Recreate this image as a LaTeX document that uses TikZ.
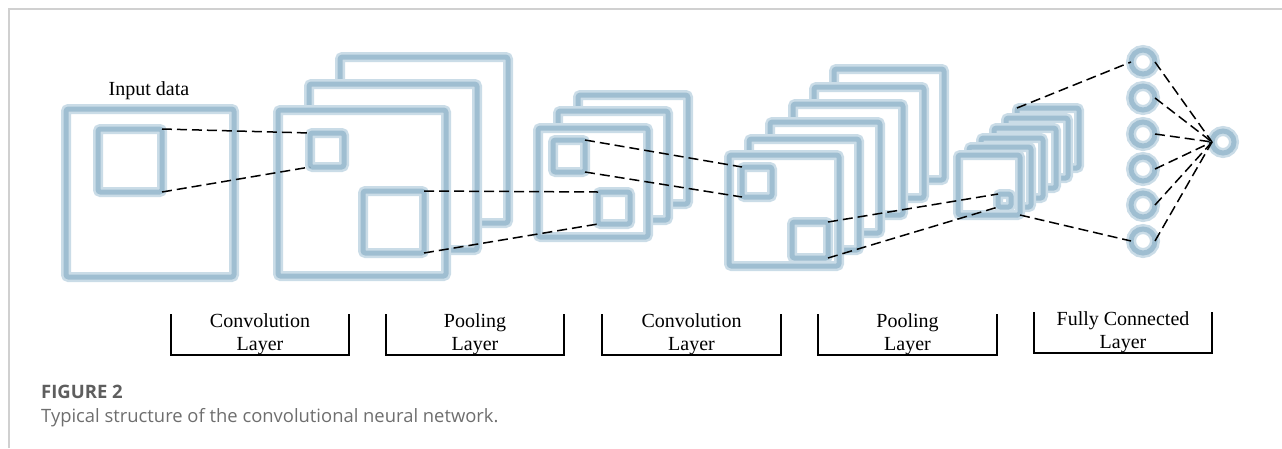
\documentclass[tikz,border=0pt]{standalone}
\usepackage{fontspec}
\setmainfont{Liberation Serif}
\newfontfamily\capfont{Open Sans}
\definecolor{glowcore}{HTML}{9FBED1}
\definecolor{glowouter}{HTML}{CADCE7}
\definecolor{framegray}{HTML}{D0D0D0}
\definecolor{capgray}{HTML}{6E6E6E}
\definecolor{figgray}{HTML}{5E5E5E}
\tikzset{
  fm/.style={preaction={fill=white},preaction={draw=glowouter,line width=10pt},
    draw=glowcore,line width=5pt,rounded corners=2.5pt,inner sep=0pt,outer sep=0pt},
  sqbox/.style={fm,rectangle,anchor=north west},
  neuron/.style={preaction={fill=white},preaction={draw=glowouter,line width=10pt},
    draw=glowcore,line width=5pt,circle,inner sep=0pt,outer sep=0pt,minimum size=24pt},
  link/.style={draw=black,line width=1.5pt,dash pattern=on 10pt off 5pt},
  br/.style={draw=black,line width=2pt},
  lab/.style={anchor=base,inner sep=0pt,font=\fontsize{20}{24}\selectfont},
}
\newcommand\sqr[5]{\node[sqbox,minimum width=#4pt,minimum height=#5pt] (#1) at (#2,#3) {};}
\begin{document}
\begin{tikzpicture}[x=1pt,y=-1pt]
\useasboundingbox (0,0) rectangle (1282,448);
% frame
\draw[framegray,line width=1.5pt] (9,448) -- (9,9) -- (1282,9);
% input
\node[lab] (lin) at (149,95) {Input data};
\sqr{in0}{66}{109}{168}{168}
\sqr{ins}{98}{129}{64}{63}
% conv 1
\sqr{c1c}{340}{57}{168}{166}
\sqr{c1b}{309}{84}{168}{166}
\sqr{c1a}{278}{110}{168}{166}
\sqr{c1s}{310}{133}{34}{34}
\sqr{c1t}{363}{191}{61}{62}
% pool 1
\sqr{p1c}{578}{95}{110}{109}
\sqr{p1b}{558}{111}{110}{109}
\sqr{p1a}{538}{128}{110}{109}
\sqr{p1s}{553}{140}{32}{32}
\sqr{p1t}{598}{192}{32}{32}
% conv 2
\sqr{c2f}{834}{69}{110}{111}
\sqr{c2e}{814}{87}{110}{111}
\sqr{c2d}{793}{104}{110}{111}
\sqr{c2c}{770}{122}{110}{111}
\sqr{c2b}{749}{139}{110}{111}
\sqr{c2a}{729}{155}{110}{111}
\sqr{c2s}{742}{167}{30}{30}
\sqr{c2t}{792}{222}{36}{36}
% pool 2
\sqr{p2f}{1017}{108}{62}{60}
\sqr{p2e}{1006}{118}{62}{60}
\sqr{p2d}{994}{128}{62}{60}
\sqr{p2c}{981}{138}{62}{60}
\sqr{p2b}{969}{147}{62}{60}
\sqr{p2a}{958}{155}{62}{60}
\sqr{p2s}{998}{194}{13}{13}
% fully connected
\node[neuron] (n1) at (1143,62) {};
\node[neuron] (n2) at (1143,98) {};
\node[neuron] (n3) at (1143,134) {};
\node[neuron] (n4) at (1143,169) {};
\node[neuron] (n5) at (1143,205) {};
\node[neuron] (n6) at (1143,241) {};
\node[neuron,minimum size=22pt] (out) at (1223,142) {};
% links
\draw[link] (ins.north east) -- (c1s.north west);
\draw[link] (ins.south east) -- (c1s.south west);
\draw[link] (c1t.north east) -- (p1t.north west);
\draw[link] (c1t.south east) -- (p1t.south west);
\draw[link] (p1s.north east) -- (c2s.north west);
\draw[link] (p1s.south east) -- (c2s.south west);
\draw[link] (c2t.north east) -- (p2s.north west);
\draw[link] (c2t.south east) -- (p2s.south west);
\draw[link] (p2f.north west) -- (n1.west);
\draw[link] (p2a.south east) -- (n6.west);
\foreach \n in {n1,n2,n3,n4,n5,n6} \draw[link] (\n.east) -- (out.west);
% brackets
\draw[br] (171,314) -- (171,355) -- (349,355) -- (349,314);
\draw[br] (386,314) -- (386,355) -- (564,355) -- (564,314);
\draw[br] (602,314) -- (602,355) -- (781,355) -- (781,314);
\draw[br] (818,314) -- (818,355) -- (997,355) -- (997,314);
\draw[br] (1034,312) -- (1034,353) -- (1212,353) -- (1212,312);
\node[lab] (t1a) at (260,327) {Convolution};
\node[lab] (t1b) at (260,350) {Layer};
\node[lab] (t2a) at (475,327) {Pooling};
\node[lab] (t2b) at (475,350) {Layer};
\node[lab] (t3a) at (691.5,327) {Convolution};
\node[lab] (t3b) at (691.5,350) {Layer};
\node[lab] (t4a) at (907.5,327) {Pooling};
\node[lab] (t4b) at (907.5,350) {Layer};
\node[lab] (t5a) at (1123,325) {Fully Connected};
\node[lab] (t5b) at (1123,348) {Layer};
% caption
\node[anchor=base west,inner sep=0pt,font=\capfont\bfseries\fontsize{18.5}{22}\selectfont,text=figgray] (fig) at (41,398) {FIGURE 2};
\node[anchor=base west,inner sep=0pt,font=\capfont\fontsize{18.4}{22}\selectfont,text=capgray] (cap) at (41,422) {Typical structure of the convolutional neural network.};
\end{tikzpicture}
\end{document}
